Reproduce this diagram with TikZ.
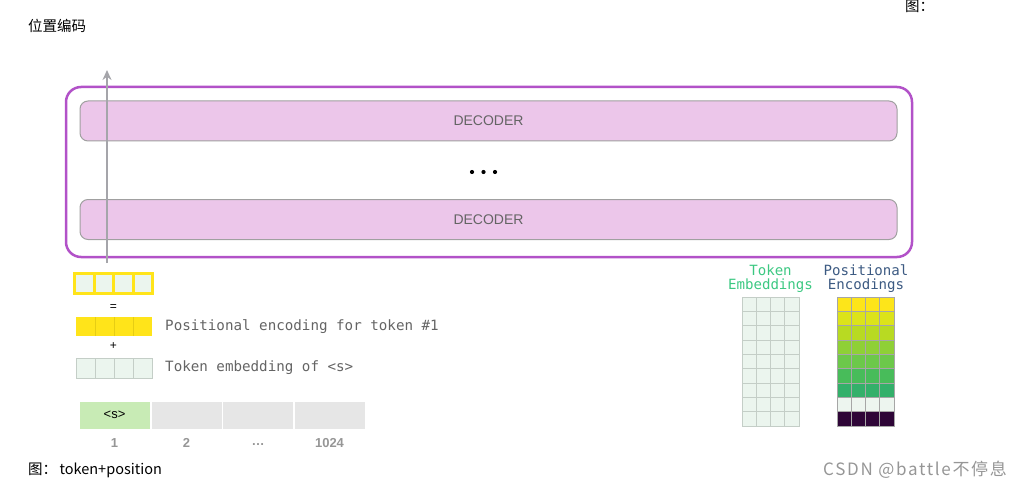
\documentclass[tikz,border=0pt]{standalone}
\usepackage{fontspec}
\setmainfont{Liberation Sans}
\newfontfamily\cjk{Noto Sans CJK SC}
\newfontfamily\cjkwide[LetterSpace=10]{Noto Sans CJK SC}
\newfontfamily\monof{DejaVu Sans Mono}
\usetikzlibrary{arrows.meta}
\definecolor{outerpurple}{RGB}{178,82,200}
\definecolor{decpink}{RGB}{236,198,234}
\definecolor{decborder}{RGB}{160,160,160}
\definecolor{lightcell}{RGB}{235,245,238}
\definecolor{cellline}{RGB}{196,206,199}
\definecolor{peyellow}{RGB}{255,228,26}
\definecolor{peline}{RGB}{230,205,20}
\definecolor{tokgreen}{RGB}{200,235,181}
\definecolor{tokgray}{RGB}{230,230,230}
\definecolor{numgray}{RGB}{150,150,150}
\definecolor{textgray}{RGB}{100,100,100}
\definecolor{embgreen}{RGB}{60,200,130}
\definecolor{posblue}{RGB}{60,90,130}
\definecolor{arrowgray}{RGB}{165,165,170}
\definecolor{pc1}{RGB}{253,229,26}
\definecolor{pc2}{RGB}{220,227,26}
\definecolor{pc3}{RGB}{184,218,34}
\definecolor{pc4}{RGB}{143,208,54}
\definecolor{pc5}{RGB}{108,200,74}
\definecolor{pc6}{RGB}{72,188,90}
\definecolor{pc7}{RGB}{51,176,106}
\definecolor{pc8}{RGB}{237,245,239}
\definecolor{pc9}{RGB}{46,5,55}
\begin{document}
\begin{tikzpicture}[x=1pt,y=-1pt,
  outerbox/.style={draw=outerpurple, line width=2.5pt, rounded corners=15pt, inner sep=0pt},
  decbox/.style={draw=decborder, line width=1pt, fill=decpink, rounded corners=8pt, inner sep=0pt,
    minimum width=817pt, minimum height=40pt, text=textgray, font=\fontsize{14}{15}\selectfont},
  cjklabel/.style={font=\cjk\fontsize{14.5}{16}\selectfont, text=black, inner sep=0pt},
  monolabel/.style={font=\monof\fontsize{14.2}{16}\selectfont, text=textgray, inner sep=0pt, anchor=west},
  gridlabel/.style={font=\monof\fontsize{14.1}{16}\selectfont, inner sep=0pt},
  opsign/.style={font=\fontsize{12}{14}\selectfont, text=black, inner sep=0pt},
  tokcell/.style={inner sep=0pt, minimum width=70pt, minimum height=27pt, font=\fontsize{13}{15}\selectfont},
  numlabel/.style={font=\bfseries\fontsize{13}{15}\selectfont, text=numgray, inner sep=0pt},
  upflow/.style={draw=arrowgray, line width=2pt, -{Stealth[length=10pt,width=9pt]}}
]
\useasboundingbox (0,0) rectangle (1025,492);

% titles
\node[cjklabel, anchor=west] (title) at (28,26) {位置编码};
\node[cjklabel, anchor=west] (figtop) at (905,6) {图：};

% outer frame and decoders
\node[outerbox, minimum width=846pt, minimum height=170pt] (outer) at (489,172) {};
\node[decbox] (dec1) at (488.5,121) {DECODER};
\node[decbox] (dec2) at (488.5,219.5) {DECODER};
\foreach \dx in {472,483.5,495} \fill (\dx,172) circle (2.1pt);

% upward flow arrow
\coordinate (flowstart) at (107,263);
\coordinate (flowend) at (107,70);
\draw[upflow] (flowstart) -- (flowend);

% result vector (yellow bordered)
\node[fill=peyellow, inner sep=0pt, minimum width=81pt, minimum height=23pt] (result) at (113.5,283.5) {};
\foreach \i in {0,1,2,3} {
  \fill[lightcell] (76+\i*19.5,275) rectangle ++(16.5,17);
}
\node[opsign] (eq) at (113.5,308) {=};

% positional encoding vector
\node[fill=peyellow, inner sep=0pt, minimum width=76pt, minimum height=19pt] (pevec) at (114,326.5) {};
\foreach \i in {1,2,3} \draw[peline, line width=0.8pt] (76+\i*19,317) -- ++(0,19);
\node[monolabel] (pelabel) at (165,327) {Positional encoding for token \#1};
\node[opsign] (plus) at (113.5,346) {+};

% token embedding vector
\node[fill=lightcell, draw=cellline, line width=0.8pt, inner sep=0pt, minimum width=76pt, minimum height=20pt] (tevec) at (114,368) {};
\foreach \i in {1,2,3} \draw[cellline, line width=0.8pt] (76+\i*19,358) -- ++(0,20);
\node[monolabel] (telabel) at (165,368) {Token embedding of <s>};

% token strip
\node[tokcell, fill=tokgreen] (t1) at (114.5,415) {<s>};
\node[tokcell, fill=tokgray] (t2) at (186.5,415) {};
\node[tokcell, fill=tokgray] (t3) at (258,415) {};
\node[tokcell, fill=tokgray] (t4) at (329.5,415) {};
\node[numlabel] (n1) at (114.5,443) {1};
\node[numlabel] (n2) at (186.5,443) {2};
\node[numlabel] (n3) at (258,445) {\ldots};
\node[numlabel] (n4) at (329.5,443) {1024};

\node[cjklabel, anchor=west] (caption) at (28,470) {图：\,token+position};

% token embeddings grid
\node[gridlabel, text=embgreen] (embl1) at (770.5,270) {Token};
\node[gridlabel, text=embgreen] (embl2) at (770.5,286) {Embeddings};
\foreach \r in {0,...,8} {
  \foreach \c in {0,...,3} {
    \filldraw[fill=lightcell, draw=cellline, line width=0.8pt] (742+\c*14.25,297+\r*14.33) rectangle ++(14.25,14.33);
  }
}

% positional encodings grid
\node[gridlabel, text=posblue] (posl1) at (866,270) {Positional};
\node[gridlabel, text=posblue] (posl2) at (866,286) {Encodings};
\foreach \col [count=\r from 0] in {pc1,pc2,pc3,pc4,pc5,pc6,pc7,pc8,pc9} {
  \foreach \c in {0,...,3} {
    \filldraw[fill=\col, draw=black!35, line width=0.6pt] (837+\c*14.25,297+\r*14.33) rectangle ++(14.25,14.33);
  }
}

% watermark
\node[font=\cjkwide\fontsize{17}{19}\selectfont, text=numgray, inner sep=0pt, anchor=west] (mark) at (823,470) {CSDN @battle不停息};
\end{tikzpicture}
\end{document}
